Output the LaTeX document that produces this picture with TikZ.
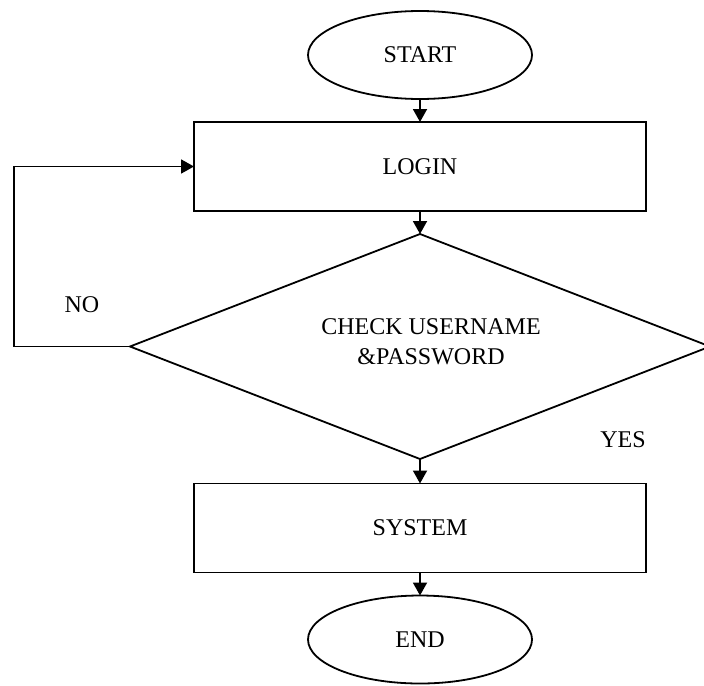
\documentclass[tikz,border=0pt]{standalone}
\usepackage{fontspec}
\setmainfont{Liberation Serif}
\usetikzlibrary{shapes.geometric,arrows.meta}
\begin{document}
\begin{tikzpicture}[x=0.5pt,y=-0.5pt,
  every node/.style={font=\fontsize{12}{15}\selectfont, inner sep=0pt, outer sep=0pt},
  term/.style={ellipse, draw, line width=0.9pt, minimum width=112pt, minimum height=44pt},
  procbox/.style={rectangle, draw, line width=0.9pt, minimum width=226pt, minimum height=44.5pt},
  decide/.style={diamond, draw, line width=0.9pt, minimum width=290pt, minimum height=112.5pt},
  arr/.style={line width=0.9pt, -{Triangle[length=6.5pt,width=7pt]}},
  lbl/.style={}]
\useasboundingbox (0,0) rectangle (704,685);
\node[term] (start) at (420,55) {START};
\node[procbox] (login) at (420,166.5) {LOGIN};
\node[decide] (check) at (420,346.5) {};
\node[align=center] (checktext) at (431,342) {CHECK USERNAME\\\&PASSWORD};
\node[procbox] (system) at (420,528) {SYSTEM};
\node[term] (end) at (420,639.5) {END};
\node[lbl] (no) at (82,305) {NO};
\node[lbl] (yes) at (623,440) {YES};
\coordinate (loopx) at (14,0);
\draw[arr] (start.south) -- (login.north);
\draw[arr] (login.south) -- (check.north);
\draw[arr] (check.south) -- (system.north);
\draw[arr] (system.south) -- (end.north);
\draw[arr] (check.west) -- (check.west -| loopx) |- (login.west);
\end{tikzpicture}
\end{document}
